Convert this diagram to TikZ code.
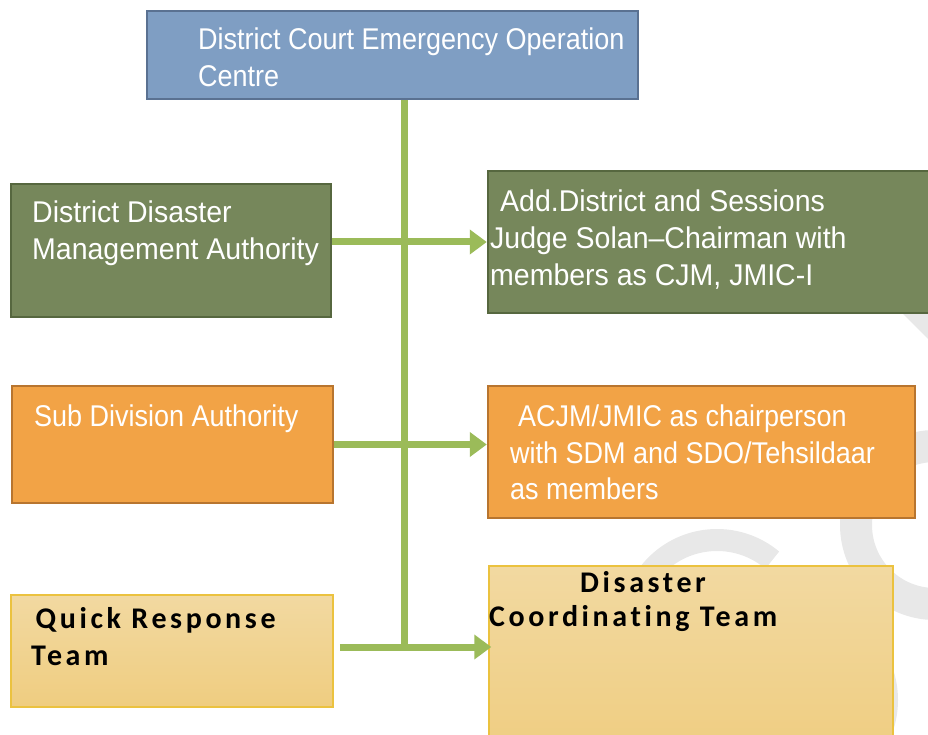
\documentclass[tikz,border=0pt]{standalone}
\usepackage{fontspec}
\usepackage{tikz}
\usepackage{xcolor}
\usetikzlibrary{arrows.meta}
\newfontfamily\boxfont{Liberation Sans}[FakeStretch=0.9]
\newfontfamily\wideboxfont{Liberation Sans}[FakeStretch=0.95]
\newfontfamily\teamfont{Carlito}[LetterSpace=12, Ligatures=CommonOff]
\definecolor{ceoc-blue}{HTML}{7F9EC3}
\definecolor{ceoc-blue-edge}{HTML}{5A7191}
\definecolor{court-green}{HTML}{76875B}
\definecolor{court-green-edge}{HTML}{56673F}
\definecolor{sub-orange}{HTML}{F2A346}
\definecolor{sub-orange-edge}{HTML}{B8752F}
\definecolor{team-top}{HTML}{F2D9A1}
\definecolor{team-bottom}{HTML}{EFCD80}
\definecolor{team-edge}{HTML}{EBC23F}
\definecolor{link-green}{HTML}{9BBB59}
\definecolor{mark-grey}{HTML}{E8E8E8}
\tikzset{
    plain-box/.style = {rectangle, inner sep=0pt, line width=2.5pt},
    blue-box/.style = {plain-box, draw=ceoc-blue-edge, fill=ceoc-blue},
    green-box/.style = {plain-box, draw=court-green-edge, fill=court-green},
    orange-box/.style = {plain-box, draw=sub-orange-edge, fill=sub-orange},
    yellow-box/.style = {plain-box, line width=1.5pt, draw=team-edge, top color=team-top, bottom color=team-bottom},
    box-text/.style = {inner sep=0pt, anchor=north west, align=left, text=white, font=\boxfont\fontsize{30}{37}\selectfont},
    wide-text/.style = {box-text, font=\wideboxfont\fontsize{30}{37}\selectfont},
    team-text/.style = {inner sep=0pt, anchor=north west, align=left, text=black, font=\teamfont\bfseries\fontsize{30}{37}\selectfont},
    link-arrow/.style = {draw=link-green, line width=7pt, -{Triangle[length=17pt, width=24pt]}},
    spine-line/.style = {draw=link-green, line width=7pt},
    mark-ring/.style = {draw=mark-grey},
}

\begin{document}
\begin{tikzpicture}[x=1pt, y=-1pt]
\useasboundingbox (0,0) rectangle (928,735);

% faint rings in the background
\draw[mark-ring, line width=32pt] (935,525) circle[radius=79];
\draw[mark-ring, line width=22pt] (717,626) ++(-50:86) arc[start angle=-50, end angle=-200, radius=86];
\draw[mark-ring, line width=16pt] (800,700) ++(40:90) arc[start angle=40, end angle=-40, radius=90];
\draw[mark-ring, line width=24pt] (896,290) -- (960,354);

\node[blue-box, minimum width=491pt, minimum height=88pt] (ceoc) at (392.5,55) {};
\node[green-box, minimum width=320pt, minimum height=133pt] (ddma) at (171,250.5) {};
\node[green-box, minimum width=452pt, minimum height=142pt] (judge) at (714,242) {};
\node[orange-box, minimum width=321pt, minimum height=117pt] (sda) at (172.5,444.5) {};
\node[orange-box, minimum width=427pt, minimum height=132pt] (acjm) at (701.5,452) {};
\node[yellow-box, minimum width=322pt, minimum height=112pt] (qrt) at (172,651) {};
\node[yellow-box, minimum width=404pt, minimum height=194pt] (dct) at (691,663) {};

\node[box-text] (ceoc-text) at (198,28) {District Court Emergency Operation\\Centre};
\node[wide-text] (ddma-text) at (32,201) {District Disaster\\Management Authority};
\node[wide-text] (judge-text) at (490,190) {\hspace*{10pt}Add.District and Sessions\\Judge Solan–Chairman with\\members as CJM, JMIC-I};
\node[box-text] (sda-text) at (34,405) {Sub Division Authority};
\node[box-text, font=\boxfont\fontsize{30}{36.5}\selectfont] (acjm-text) at (510,405) {\hspace*{8pt}ACJM/JMIC as chairperson\\with SDM and SDO/Tehsildaar\\as members};
\node[team-text] (qrt-text) at (31,607) {\hspace*{4.5pt}Quick Response\\Team};
\node[team-text] (dct-text) at (489,571) {\hspace*{91pt}Disaster\\[-3pt]Coordinating Team};

\coordinate (qrt-out) at ([xshift=6pt, yshift=4pt]qrt.east);
\draw[spine-line] ([xshift=11.5pt]ceoc.south) -- ([xshift=11.5pt]ceoc.south |- qrt-out);
\draw[link-arrow] (ddma.east |- judge.west) -- (judge.west);
\draw[link-arrow] (sda.east) -- (sda.east -| acjm.west);
\draw[link-arrow] (qrt-out) -- ([xshift=3pt]qrt-out -| dct.west);
\end{tikzpicture}
\end{document}
